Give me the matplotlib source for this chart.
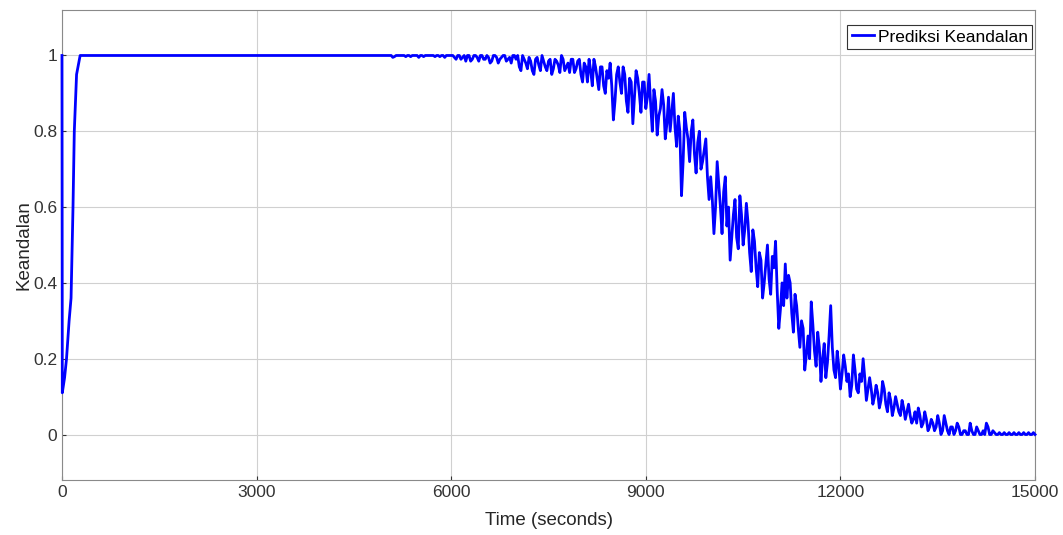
import numpy as np
import matplotlib.pyplot as plt

plt.rcParams['font.family'] = ['Liberation Sans', 'DejaVu Sans']

# start-up transient
t_start = [0, 5, 40, 70, 110, 140, 170, 190, 225, 280, 5000]
r_start = [1.0, 0.11, 0.15, 0.2, 0.3, 0.36, 0.6, 0.8, 0.95, 1.0, 1.0]

# reliability samples: block k holds values at k+50, k+100, ..., k+1000 s
r_5000 = [1.0, 0.995, 1.0, 1.0, 1.0, 0.997, 1.0, 1.0, 1.0, 0.995,
          1.0, 1.0, 1.0, 1.0, 0.997, 1.0, 1.0, 0.995, 1.0, 1.0]
r_6000 = [0.995, 1.0, 0.99, 1.0, 1.0, 0.985, 1.0, 0.995, 1.0, 0.99,
          1.0, 0.98, 1.0, 0.995, 0.99, 1.0, 0.985, 0.995, 1.0, 0.99]
r_7000 = [0.97, 1.0, 0.98, 0.995, 0.96, 0.99, 0.975, 1.0, 0.97, 0.985,
          0.95, 0.99, 0.975, 1.0, 0.96, 0.98, 0.99, 0.955, 0.985, 0.95]
r_8000 = [0.98, 0.93, 0.96, 0.99, 0.94, 0.97, 0.92, 0.96, 0.98, 0.83,
          0.95, 0.93, 0.97, 0.88, 0.94, 0.82, 0.96, 0.90, 0.93, 0.86]
r_9000 = [0.95, 0.80, 0.88, 0.84, 0.91, 0.78, 0.89, 0.85, 0.81, 0.84,
          0.63, 0.85, 0.78, 0.80, 0.74, 0.77, 0.70, 0.75, 0.68, 0.68]
r_10000 = [0.53, 0.72, 0.60, 0.64, 0.55, 0.46, 0.58, 0.52, 0.63, 0.50,
           0.61, 0.48, 0.54, 0.44, 0.48, 0.36, 0.45, 0.41, 0.47, 0.51]
r_11000 = [0.28, 0.40, 0.45, 0.42, 0.32, 0.37, 0.28, 0.30, 0.17, 0.26,
           0.35, 0.22, 0.27, 0.14, 0.24, 0.19, 0.34, 0.17, 0.22, 0.12]
r_12000 = [0.21, 0.14, 0.10, 0.21, 0.12, 0.16, 0.20, 0.09, 0.15, 0.08,
           0.13, 0.07, 0.14, 0.08, 0.11, 0.05, 0.10, 0.06, 0.09, 0.04]
r_13000 = [0.08, 0.03, 0.06, 0.07, 0.02, 0.06, 0.01, 0.04, 0.01, 0.05,
           0.0, 0.05, 0.01, 0.02, 0.0, 0.03, 0.0, 0.01, 0.0, 0.03]
r_14000 = [0.0, 0.02, 0.0, 0.01, 0.03, 0.0, 0.01, 0.0, 0.005, 0.0,
           0.0, 0.005, 0.0, 0.0, 0.005, 0.0, 0.0, 0.005, 0.0, 0.0]

# samples in between: block k holds values at k+25, k+75, ..., k+975 s
m_5000 = [1.0, 1.0, 0.997, 1.0, 1.0, 1.0, 1.0, 0.997, 1.0, 1.0,
          1.0, 0.997, 1.0, 1.0, 1.0, 1.0, 0.997, 1.0, 1.0, 1.0]
m_6000 = [1.0, 0.99, 1.0, 0.995, 0.985, 1.0, 0.99, 1.0, 0.985, 1.0,
          0.99, 0.995, 0.985, 1.0, 0.98, 0.995, 1.0, 0.99, 0.98, 1.0]
m_7000 = [1.0, 0.96, 0.99, 0.965, 0.985, 0.95, 0.995, 0.96, 0.985, 0.96,
          0.99, 0.965, 0.985, 0.955, 0.99, 0.97, 0.955, 0.99, 0.965, 0.99]
m_8000 = [0.93, 0.97, 0.99, 0.92, 0.97, 0.91, 0.97, 0.90, 0.94, 0.92,
          0.88, 0.97, 0.90, 0.95, 0.85, 0.93, 0.89, 0.94, 0.85, 0.93]
m_9000 = [0.89, 0.87, 0.91, 0.79, 0.86, 0.87, 0.82, 0.80, 0.90, 0.76,
          0.80, 0.72, 0.81, 0.72, 0.83, 0.69, 0.80, 0.72, 0.78, 0.62]
m_10000 = [0.62, 0.60, 0.66, 0.53, 0.68, 0.60, 0.52, 0.62, 0.49, 0.58,
           0.54, 0.56, 0.43, 0.51, 0.39, 0.46, 0.40, 0.50, 0.37, 0.44]
m_11000 = [0.38, 0.33, 0.34, 0.36, 0.40, 0.27, 0.34, 0.23, 0.28, 0.21,
           0.20, 0.29, 0.18, 0.23, 0.20, 0.15, 0.26, 0.23, 0.15, 0.18]
m_12000 = [0.16, 0.18, 0.16, 0.13, 0.17, 0.11, 0.14, 0.15, 0.12, 0.12,
           0.10, 0.11, 0.09, 0.12, 0.06, 0.09, 0.07, 0.08, 0.05, 0.07]
m_13000 = [0.06, 0.05, 0.04, 0.03, 0.05, 0.03, 0.04, 0.02, 0.03, 0.02,
           0.03, 0.01, 0.03, 0.0, 0.02, 0.01, 0.02, 0.0, 0.01, 0.0]
m_14000 = [0.01, 0.0, 0.01, 0.0, 0.0, 0.02, 0.0, 0.005, 0.0, 0.0,
           0.005, 0.0, 0.0, 0.005, 0.0, 0.0, 0.005, 0.0, 0.0, 0.005]

blocks = [(5000, m_5000, r_5000), (6000, m_6000, r_6000), (7000, m_7000, r_7000),
          (8000, m_8000, r_8000), (9000, m_9000, r_9000), (10000, m_10000, r_10000),
          (11000, m_11000, r_11000), (12000, m_12000, r_12000),
          (13000, m_13000, r_13000), (14000, m_14000, r_14000)]

t = list(t_start)
r = list(r_start)
for k, mid, main in blocks:
    for i in range(20):
        t += [k + 25 + 50 * i, k + 50 + 50 * i]
        r += [mid[i], main[i]]

fig = plt.figure(figsize=(10.63, 5.35), dpi=100)
ax = fig.add_axes([0.0583, 0.1028, 0.9154, 0.8785])
ax.plot(t, r, color='#0000ff', linewidth=2.0, label='Prediksi Keandalan',
        zorder=3, clip_on=False)

ax.set_xlim(0, 15000)
ax.set_ylim(-0.12, 1.12)
ax.set_xticks([0, 3000, 6000, 9000, 12000, 15000])
ax.set_yticks([0, 0.2, 0.4, 0.6, 0.8, 1])
ax.set_yticklabels(['0', '0.2', '0.4', '0.6', '0.8', '1'])
ax.grid(True, color='#d0d0d0', linewidth=0.8)
ax.tick_params(direction='in', length=3, labelsize=12.5, colors='#333333')
for s in ax.spines.values():
    s.set_color('#8a8a8a')
    s.set_linewidth(0.8)
ax.set_xlabel('Time (seconds)', fontsize=13.5, color='#262626', labelpad=9)
ax.set_ylabel('Keandalan', fontsize=13.5, color='#262626', labelpad=0)

leg = ax.legend(loc='upper right', bbox_to_anchor=(0.997, 0.968), fontsize=12.5,
                handlelength=1.3, handletextpad=0.2, borderpad=0.25,
                borderaxespad=0, fancybox=False, framealpha=1)
leg.get_frame().set_edgecolor('#333333')
leg.get_frame().set_linewidth(0.8)

fig.savefig('out.png', dpi=100)
